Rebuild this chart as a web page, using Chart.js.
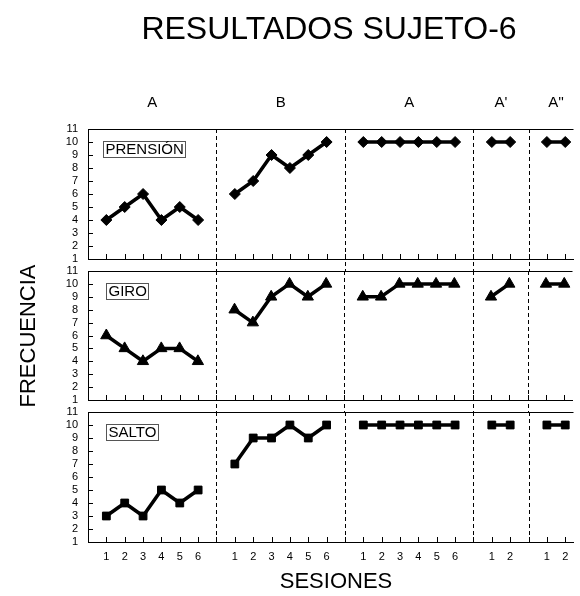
<!DOCTYPE html>
<html><head><meta charset="utf-8">
<script src="https://cdn.jsdelivr.net/npm/chart.js@4.4.1/dist/chart.umd.min.js"></script>
<style>
html,body{margin:0;padding:0;background:#fff;}
#wrap{position:relative;width:580px;height:596px;overflow:hidden;}
canvas{position:absolute;left:0;top:0;}
</style></head><body>
<div id="wrap">
<canvas id="c1" width="580" height="596"></canvas>
<canvas id="c2" width="580" height="596"></canvas>
<canvas id="c3" width="580" height="596"></canvas>
</div>
<script>
// ---- data ----
const chartTitle = 'RESULTADOS SUJETO-6';
const xTitle = 'SESIONES';
const yTitle = 'FRECUENCIA';
const phases = ['A', 'B', 'A', "A'", "A''"];
// session tick labels along the x axis ('' = phase change line)
const sessions = ['1','2','3','4','5','6','', '1','2','3','4','5','6','', '1','2','3','4','5','6','', '1','2','', '1','2'];
const measures = ['PRENSIÓN', 'GIRO', 'SALTO'];
const prension = [4,5,6,4,5,4,null, 6,7,9,8,9,10,null, 10,10,10,10,10,10,null, 10,10,null, 10,10];
const giro     = [6,5,4,5,5,4,null, 8,7,9,10,9,10,null, 9,9,10,10,10,10,null, 9,10,null, 10,10];
const salto    = [3,4,3,5,4,5,null, 7,9,9,10,9,10,null, 10,10,10,10,10,10,null, 10,10,null, 10,10];
const yTicks = [1,2,3,4,5,6,7,8,9,10,11];
const markers = ['rectRot', 'triangle', 'rect'];

// ---- layout ----
const W = 580, H = 596, LEFT = 88;
const panelTop = [129, 271, 412];
const panelH = [130, 129, 130];
const boxLeft = [103, 106, 106];
const FONT = "'Liberation Sans', Arial, Helvetica, sans-serif";
Chart.defaults.font.family = FONT;
Chart.defaults.color = '#000';

const series = [prension, giro, salto];

function phaseRuns() {
  const runs = []; let start = null;
  sessions.forEach((s, i) => {
    if (s !== '' && start === null) start = i;
    if ((s === '' || i === sessions.length - 1) && start !== null) {
      runs.push([start, s === '' ? i - 1 : i]); start = null;
    }
  });
  return runs;
}

function makeChart(idx) {
  const isLast = idx === 2;
  const xH = isLast ? 20 : 0;
  const gapBelow = idx < 2 ? panelTop[idx + 1] - (panelTop[idx] + panelH[idx]) : 0;
  const decor = {
    id: 'decor' + idx,
    beforeDatasetsDraw(chart) {
      const {ctx, chartArea: a, scales: {x, y}} = chart;
      ctx.save();
      ctx.strokeStyle = '#000';
      ctx.lineWidth = 1;
      // top border
      ctx.beginPath();
      ctx.moveTo(a.left, Math.round(a.top) + 0.5);
      ctx.lineTo(a.right, Math.round(a.top) + 0.5);
      ctx.stroke();
      // inward y ticks
      ctx.beginPath();
      yTicks.forEach(v => {
        const py = Math.round(y.getPixelForValue(v)) + 0.5;
        ctx.moveTo(a.left, py); ctx.lineTo(a.left + 5, py);
      });
      // inward x ticks
      sessions.forEach((s, i) => {
        const px = Math.round(x.getPixelForValue(i)) + 0.5;
        ctx.moveTo(px, a.bottom); ctx.lineTo(px, a.bottom - 5);
      });
      ctx.stroke();
      // phase change dashed lines
      ctx.setLineDash([4, 3]);
      ctx.beginPath();
      sessions.forEach((s, i) => {
        if (s !== '') return;
        const px = Math.round(x.getPixelForValue(i)) + 0.5;
        ctx.moveTo(px, a.top); ctx.lineTo(px, a.bottom + gapBelow);
      });
      ctx.stroke();
      ctx.setLineDash([]);
      // measure label box
      ctx.font = '15px ' + FONT;
      const tw = ctx.measureText(measures[idx]).width;
      const bx = boxLeft[idx], by = Math.round(a.top) + 12;
      ctx.strokeStyle = '#555';
      ctx.strokeRect(bx + 0.5, by + 0.5, Math.round(tw) + 4, 16);
      ctx.fillStyle = '#000';
      ctx.textBaseline = 'middle';
      ctx.textAlign = 'left';
      ctx.fillText(measures[idx], bx + 2.5, by + 9);
      // texts outside panels
      ctx.textAlign = 'center';
      if (idx === 0) {
        ctx.font = '32px ' + FONT;
        ctx.fillText(chartTitle, 329, 30);
        ctx.font = '15px ' + FONT;
        phaseRuns().forEach((r, k) => {
          const cx = (x.getPixelForValue(r[0]) + x.getPixelForValue(r[1])) / 2;
          ctx.fillText(phases[k], cx, 103);
        });
      }
      if (idx === 1) {
        ctx.save();
        ctx.translate(29, 336);
        ctx.rotate(-Math.PI / 2);
        ctx.font = '22px ' + FONT;
        ctx.fillText(yTitle, 0, 0);
        ctx.restore();
      }
      if (idx === 2) {
        ctx.font = '22px ' + FONT;
        ctx.fillText(xTitle, 336, 582);
      }
      ctx.restore();
    }
  };
  return new Chart(document.getElementById('c' + (idx + 1)), {
    type: 'line',
    data: {
      datasets: [{
        label: measures[idx],
        data: series[idx].map((v, i) => ({x: i, y: v})),
        borderColor: '#000',
        backgroundColor: '#000',
        borderWidth: 3.5,
        pointStyle: markers[idx],
        pointRadius: idx === 1 ? 6.5 : (idx === 0 ? 5.5 : 5.5),
        pointBackgroundColor: '#000',
        pointBorderColor: '#000',
        pointBorderWidth: 1,
        tension: 0,
        spanGaps: false,
        fill: false
      }]
    },
    options: {
      responsive: false,
      animation: false,
      devicePixelRatio: 1,
      layout: {padding: {left: 0, right: 0, top: panelTop[idx], bottom: H - panelTop[idx] - panelH[idx] - xH}},
      plugins: {legend: {display: false}, tooltip: {enabled: false}, title: {display: false}},
      scales: {
        x: {
          type: 'linear',
          min: -1, max: 25.45,
          grid: {display: false, drawTicks: false},
          border: {display: true, color: '#000', width: 1},
          ticks: {
            display: isLast,
            stepSize: 1,
            includeBounds: false,
            autoSkip: false,
            maxRotation: 0,
            padding: 8,
            font: {size: 11},
            color: '#000',
            callback: v => (Number.isInteger(v) && v >= 0 && v < sessions.length) ? sessions[v] : ''
          },
          afterFit: s => { s.height = xH; s.paddingLeft = 0; s.paddingRight = 0; }
        },
        y: {
          min: 1, max: 11,
          grid: {display: false, drawTicks: false},
          border: {display: true, color: '#000', width: 1},
          ticks: {stepSize: 1, autoSkip: false, padding: 10, font: {size: 11}, color: '#000'},
          afterFit: s => { s.width = LEFT; s.paddingTop = 0; s.paddingBottom = 0; }
        }
      }
    },
    plugins: [decor]
  });
}
[0, 1, 2].forEach(makeChart);
</script>
</body></html>
